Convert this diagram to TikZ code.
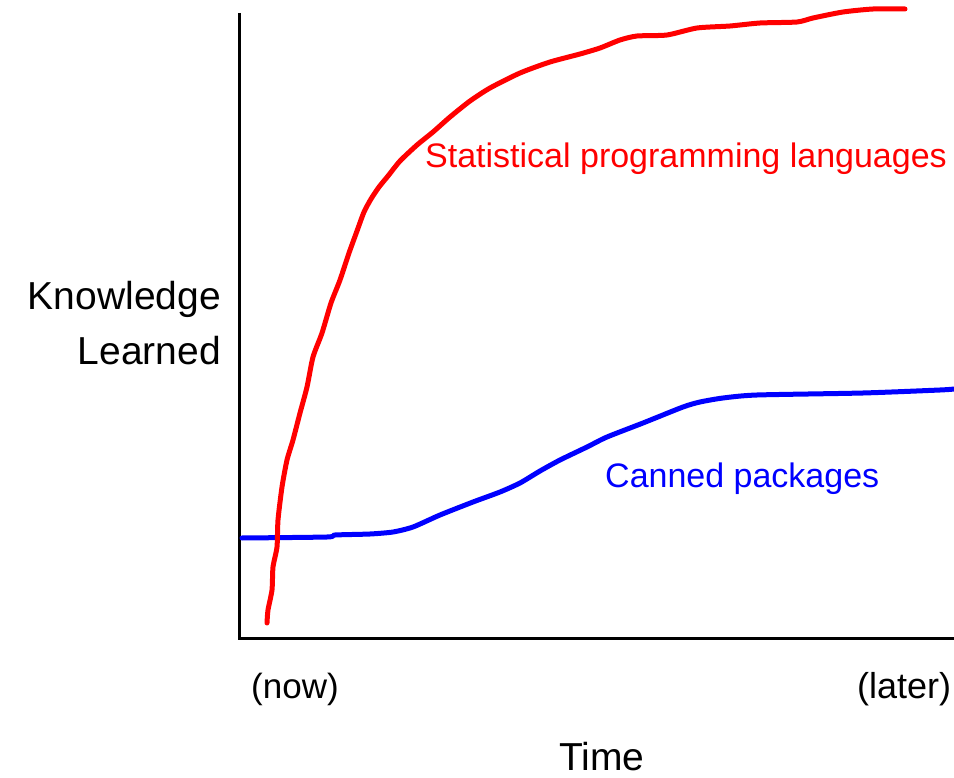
\documentclass[tikz,border=0pt]{standalone}
\usepackage{fontspec}
\setmainfont{Liberation Sans}
\begin{document}
\begin{tikzpicture}[x=1pt,y=-1pt,
  axisline/.style={line width=3pt,black},
  curve/.style={line width=5pt,line join=round,line cap=round},
  lbl/.style={inner sep=0pt,anchor=base west},
  lblr/.style={inner sep=0pt,anchor=base east}]
\useasboundingbox (0,0) rectangle (954,778);
% axes
\coordinate (ytop) at (239,13);
\coordinate (orig) at (239,638);
\coordinate (xend) at (954,638);
\draw[axisline] (ytop) -- (orig) -- (xend);
% blue curve
\draw[curve,blue] plot[smooth,tension=0.4] coordinates {(242,538) (327,537) (335,535) (370,534) (393,532) (413,527) (440,515) (473,502) (500,492) (520,483) (540,471) (560,460) (587,447) (607,437) (643,423) (683,407) (700,402) (723,398) (757,395) (863,393) (940,390) (954,389)};
% red curve
\draw[curve,red] plot[smooth,tension=0.4] coordinates {(267,623) (268,610) (272,590) (273,567) (277,547) (278,520) (282,487) (287,460) (293,440) (300,413) (307,387) (313,357) (322,333) (331,303) (340,280) (349,253) (357,231) (364,212) (371,199) (379,187) (388,176) (400,161) (417,145) (433,132) (450,117) (470,101) (490,88) (520,73) (550,62) (580,54) (600,48) (620,40) (637,36) (667,35) (697,28) (730,26) (760,23) (797,22) (813,18) (843,12) (873,9) (905,9)};
% labels
\node[lbl,red,font=\fontsize{34}{40}\selectfont] (stat) at (425,168) {Statistical programming languages};
\node[lbl,blue,font=\fontsize{34}{40}\selectfont] (canned) at (605,487) {Canned packages};
\node[lblr,font=\fontsize{39}{44}\selectfont] (know) at (221,309) {Knowledge};
\node[lblr,font=\fontsize{39}{44}\selectfont] (learn) at (221,364) {Learned};
\node[lbl,font=\fontsize{35}{40}\selectfont] (now) at (251,698) {(now)};
\node[lbl,font=\fontsize{36}{40}\selectfont] (later) at (857,698) {(later)};
\node[lbl,font=\fontsize{39}{46}\selectfont] (time) at (559,770) {Time};
\end{tikzpicture}
\end{document}
